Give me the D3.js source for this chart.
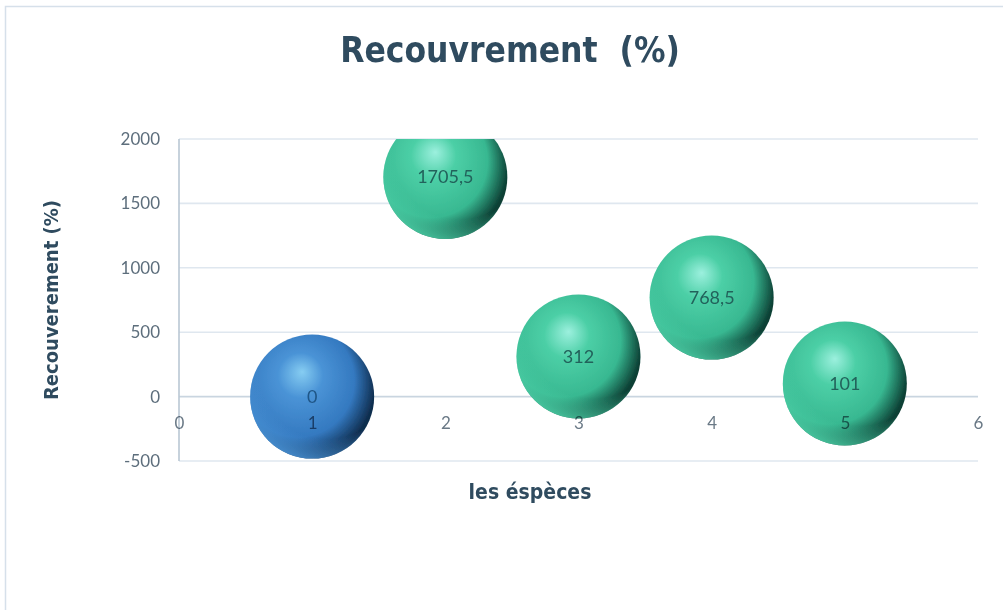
<!DOCTYPE html>
<html>
<head>
<meta charset="utf-8">
<script src="https://cdn.jsdelivr.net/npm/d3@7/dist/d3.min.js"></script>
<style>
  html, body { margin: 0; padding: 0; background: #ffffff; }
  svg { display: block; }
</style>
</head>
<body>
<svg id="chart" width="1003" height="610"></svg>
<script>
// Species index (x), cover value (y), bubble size and colour group
const species = [1, 2, 3, 4, 5];
const cover = [0, 1705.5, 312, 768.5, 101];
const coverLabels = ["0", "1705,5", "312", "768,5", "101"];
const bubbleSize = [1, 1, 1, 1, 1];
const bubbleGroup = ["blue", "green", "green", "green", "green"];
const xTicks = [0, 1, 2, 3, 4, 5, 6];
const yTicks = [-500, 0, 500, 1000, 1500, 2000];

const svg = d3.select("#chart");
const W = 1003, H = 610;
const plot = { left: 179, right: 978, top: 139, bottom: 461 };

const x = d3.scaleLinear().domain([0, 6]).range([plot.left, plot.right]);
const y = d3.scaleLinear().domain([-500, 2000]).range([plot.bottom, plot.top]);
const r = d3.scaleSqrt().domain([0, 1]).range([0, 62]);

const titleFont = "'DejaVu Sans Condensed', 'DejaVu Sans', sans-serif";
const tickFont = "Lato, 'DejaVu Sans', sans-serif";
const titleColor = "#2f4b5f";

const defs = svg.append("defs");

// Sphere shading: body gradient, right-hand shadow and a soft light rim underneath
const palettes = {
  blue:  { hi: "#86cdf2", mid: "#4a93d6", base: "#3479c0", dark: "#0f2d4e" },
  green: { hi: "#9cf0de", mid: "#4ccfa6", base: "#38b891", dark: "#0c3f34" }
};
Object.entries(palettes).forEach(([k, p]) => {
  const g = defs.append("radialGradient").attr("id", "body-" + k)
    .attr("cx", "0.36").attr("cy", "0.42").attr("r", "0.76")
    .attr("fx", "0.42").attr("fy", "0.30");
  g.append("stop").attr("offset", "0%").attr("stop-color", p.hi);
  g.append("stop").attr("offset", "24%").attr("stop-color", p.mid);
  g.append("stop").attr("offset", "60%").attr("stop-color", p.base);
  g.append("stop").attr("offset", "84%").attr("stop-color", p.dark);
  g.append("stop").attr("offset", "100%").attr("stop-color", p.dark);

  const rim = defs.append("radialGradient").attr("id", "rim-" + k)
    .attr("cx", "0.62").attr("cy", "0.30").attr("r", "0.80");
  rim.append("stop").attr("offset", "68%").attr("stop-color", p.mid).attr("stop-opacity", 0);
  rim.append("stop").attr("offset", "92%").attr("stop-color", p.mid).attr("stop-opacity", 0.85);
  rim.append("stop").attr("offset", "100%").attr("stop-color", p.hi).attr("stop-opacity", 0.9);
});

defs.append("clipPath").attr("id", "plot-clip")
  .append("rect")
  .attr("x", plot.left - 80).attr("y", plot.top)
  .attr("width", plot.right - plot.left + 160).attr("height", H - plot.top);

defs.append("filter").attr("id", "soft")
  .append("feGaussianBlur").attr("stdDeviation", 0.7);

// Chart frame
svg.append("rect")
  .attr("x", 5.5).attr("y", 6.5).attr("width", W + 10).attr("height", H - 4)
  .attr("fill", "none").attr("stroke", "#d6e0ea").attr("stroke-width", 1.5);

// Horizontal gridlines
svg.append("g").selectAll("line").data(yTicks).join("line")
  .attr("x1", plot.left).attr("x2", plot.right)
  .attr("y1", d => y(d)).attr("y2", d => y(d))
  .attr("stroke", d => d === 0 ? "#c9d5e0" : "#dfe7ef")
  .attr("stroke-width", 1.6);

// Vertical axis line
svg.append("line")
  .attr("x1", plot.left).attr("x2", plot.left)
  .attr("y1", plot.top).attr("y2", plot.bottom)
  .attr("stroke", "#b9c7d4").attr("stroke-width", 1.6);

// Y axis tick labels
const yAxis = d3.axisLeft(y).tickValues(yTicks).tickSize(0).tickPadding(19)
  .tickFormat(d => d);
const gy = svg.append("g").attr("transform", `translate(${plot.left},0)`).call(yAxis);
gy.select(".domain").remove();
gy.selectAll("text")
  .attr("font-family", tickFont).attr("font-size", 17)
  .attr("fill", "#5d6e7c");

// Bubbles
const pts = species.map((s, i) => ({
  x: s, y: cover[i], size: bubbleSize[i], group: bubbleGroup[i], label: coverLabels[i]
}));

const gb = svg.append("g").attr("clip-path", "url(#plot-clip)");
const bub = gb.selectAll("g.bubble").data(pts).join("g").attr("class", "bubble")
  .attr("filter", "url(#soft)");
bub.append("circle")
  .attr("cx", d => x(d.x)).attr("cy", d => y(d.y)).attr("r", d => r(d.size))
  .attr("fill", d => `url(#body-${d.group})`);
bub.append("circle")
  .attr("cx", d => x(d.x)).attr("cy", d => y(d.y)).attr("r", d => r(d.size))
  .attr("fill", d => `url(#rim-${d.group})`);

// X axis tick labels, sitting below the zero line and tinted over the spheres
const xAxis = d3.axisBottom(x).tickValues(xTicks).tickSize(0).tickPadding(20)
  .tickFormat(d => d);
const gx = svg.append("g").attr("transform", `translate(0,${y(0)})`).call(xAxis);
gx.select(".domain").remove();
gx.selectAll("text")
  .attr("font-family", tickFont).attr("font-size", 17)
  .attr("fill", "#6a7986")
  .style("mix-blend-mode", "multiply");

// Value labels
svg.append("g").selectAll("text").data(pts).join("text")
  .attr("x", d => x(d.x)).attr("y", d => y(d.y))
  .attr("dy", "0.35em").attr("text-anchor", "middle")
  .attr("font-family", tickFont).attr("font-size", 18)
  .attr("fill", d => d.group === "blue" ? "#1f5687" : "#22625b")
  .text(d => d.label);

// Titles
svg.append("text")
  .attr("x", 510).attr("y", 62).attr("text-anchor", "middle")
  .attr("font-family", titleFont).attr("font-weight", "bold").attr("font-size", 35)
  .attr("fill", titleColor)
  .attr("xml:space", "preserve")
  .text("Recouvrement  (%)");

svg.append("text")
  .attr("x", 530).attr("y", 499).attr("text-anchor", "middle")
  .attr("font-family", titleFont).attr("font-weight", "bold").attr("font-size", 21)
  .attr("fill", titleColor)
  .text("les éspèces");

svg.append("text")
  .attr("transform", `translate(58,${(plot.top + plot.bottom) / 2}) rotate(-90)`)
  .attr("text-anchor", "middle")
  .attr("font-family", titleFont).attr("font-weight", "bold").attr("font-size", 20)
  .attr("fill", titleColor)
  .text("Recouverement (%)");
</script>
</body>
</html>
